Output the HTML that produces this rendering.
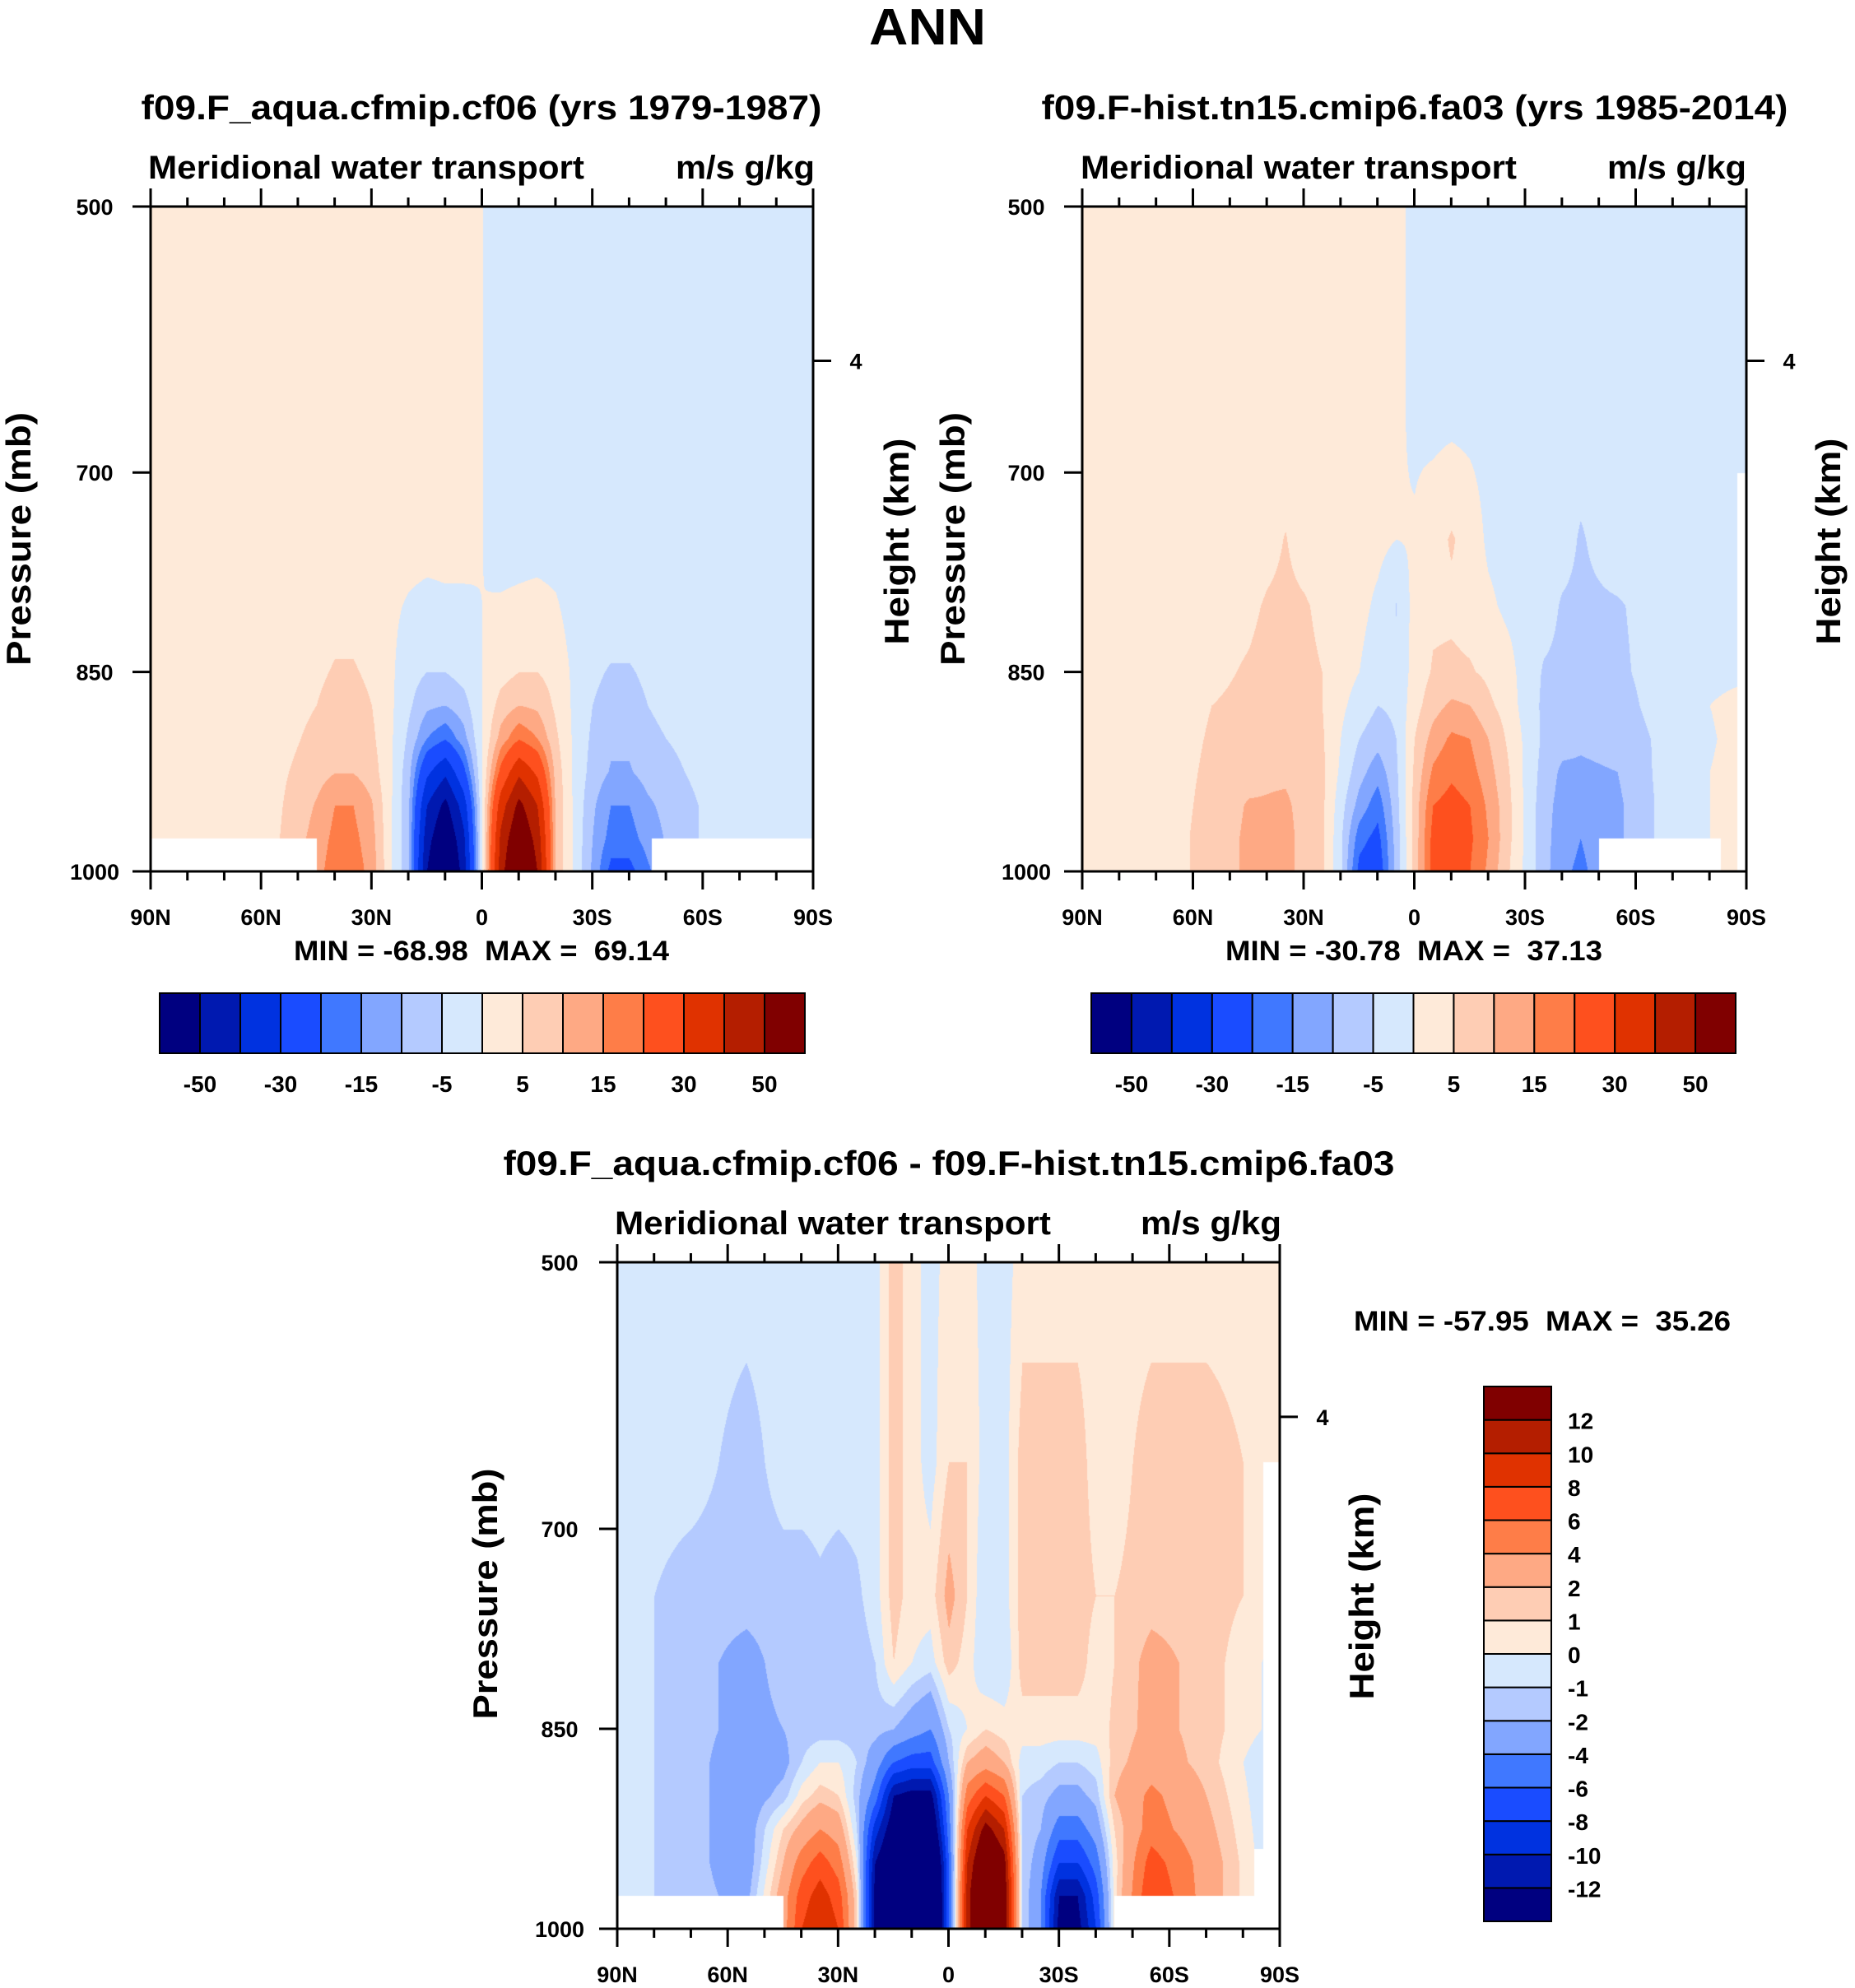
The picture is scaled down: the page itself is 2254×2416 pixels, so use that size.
<!DOCTYPE html>
<html><head><meta charset="utf-8">
<style>
html,body{margin:0;padding:0;background:#fff;}
#root{position:relative;width:2254px;height:2416px;overflow:hidden;background:#fff;font-family:"Liberation Sans",sans-serif;}
canvas{position:absolute;}
svg{position:absolute;left:0;top:0;}
text{font-family:"Liberation Sans",sans-serif;font-weight:bold;fill:#000;}
</style></head>
<body>
<div id="root">
<canvas id="cA" style="left:183px;top:251px" width="805" height="808"></canvas>
<canvas id="cB" style="left:1315px;top:251px" width="807" height="808"></canvas>
<canvas id="cC" style="left:750px;top:1534px" width="805" height="810"></canvas>
<svg id="ov" width="2254" height="2416">
<text x="1127" y="54" font-size="62" text-anchor="middle" textLength="142" lengthAdjust="spacingAndGlyphs">ANN</text>
<text x="585" y="145" font-size="42" text-anchor="middle" textLength="827" lengthAdjust="spacingAndGlyphs">f09.F_aqua.cfmip.cf06 (yrs 1979-1987)</text>
<text x="180" y="217" font-size="40" textLength="530" lengthAdjust="spacingAndGlyphs">Meridional water transport</text>
<text x="990" y="217" font-size="40" text-anchor="end" textLength="169" lengthAdjust="spacingAndGlyphs">m/s g/kg</text>
<text x="585" y="1167" font-size="34" text-anchor="middle" textLength="456" lengthAdjust="spacingAndGlyphs" xml:space="preserve">MIN = -68.98  MAX =  69.14</text>
<text x="37" y="655" font-size="42" text-anchor="middle" textLength="308" lengthAdjust="spacingAndGlyphs" transform="rotate(-90 37 655)">Pressure (mb)</text>
<text x="1104" y="658" font-size="42" text-anchor="middle" textLength="251" lengthAdjust="spacingAndGlyphs" transform="rotate(-90 1104 658)">Height (km)</text>

<text x="1719" y="145" font-size="42" text-anchor="middle" textLength="907" lengthAdjust="spacingAndGlyphs">f09.F-hist.tn15.cmip6.fa03 (yrs 1985-2014)</text>
<text x="1313" y="217" font-size="40" textLength="530" lengthAdjust="spacingAndGlyphs">Meridional water transport</text>
<text x="2122" y="217" font-size="40" text-anchor="end" textLength="169" lengthAdjust="spacingAndGlyphs">m/s g/kg</text>
<text x="1718" y="1167" font-size="34" text-anchor="middle" textLength="458" lengthAdjust="spacingAndGlyphs" xml:space="preserve">MIN = -30.78  MAX =  37.13</text>
<text x="1172" y="655" font-size="42" text-anchor="middle" textLength="308" lengthAdjust="spacingAndGlyphs" transform="rotate(-90 1172 655)">Pressure (mb)</text>
<text x="2236" y="658" font-size="42" text-anchor="middle" textLength="251" lengthAdjust="spacingAndGlyphs" transform="rotate(-90 2236 658)">Height (km)</text>

<text x="1153" y="1428" font-size="42" text-anchor="middle" textLength="1083" lengthAdjust="spacingAndGlyphs">f09.F_aqua.cfmip.cf06 - f09.F-hist.tn15.cmip6.fa03</text>
<text x="747" y="1500" font-size="40" textLength="530" lengthAdjust="spacingAndGlyphs">Meridional water transport</text>
<text x="1557" y="1500" font-size="40" text-anchor="end" textLength="171" lengthAdjust="spacingAndGlyphs">m/s g/kg</text>
<text x="1645" y="1617" font-size="34" textLength="458" lengthAdjust="spacingAndGlyphs" xml:space="preserve">MIN = -57.95  MAX =  35.26</text>
<text x="604" y="1937" font-size="42" text-anchor="middle" textLength="305" lengthAdjust="spacingAndGlyphs" transform="rotate(-90 604 1937)">Pressure (mb)</text>
<text x="1669" y="1940" font-size="42" text-anchor="middle" textLength="251" lengthAdjust="spacingAndGlyphs" transform="rotate(-90 1669 1940)">Height (km)</text>
</svg>
</div>
<script>
// ---- data ----
const lats = [90,70,55,45,40,35,30,25,20,15,10,5,0,-5,-10,-15,-20,-25,-30,-35,-40,-45,-55,-70,-90];
const pres = [500,650,750,800,850,875,900,925,950,975,1000];
const levelsAB = [-50,-40,-30,-20,-15,-10,-5,0,5,10,15,20,30,40,50];
const levelsC = [-12,-10,-8,-6,-4,-2,-1,0,1,2,4,6,8,10,12];
const cbLabelsAB = ["-50","","-30","","-15","","-5","","5","","15","","30","","50"];
const cbLabelsC = ["-12","-10","-8","-6","-4","-2","-1","0","1","2","4","6","8","10","12"];
const xTickLats = [90,60,30,0,-30,-60,-90];
const xTickLabels = ["90N","60N","30N","0","30S","60S","90S"];
const yTickPres = [500,700,850,1000];
const heightTickPres = [616];
// field columns (per latitude), values at pres rows
const fieldA = [
[2,2,2,2,2,2,2,2,2,2,2],
[2,2,2,2,2,2,2,2,2,2,2],
[2,2,2,2,2,2.5,3,4,4.5,5,5],
[2,2,2,2,4,5,6.5,8,10.5,12,13],
[2,2,2,3,5.5,7,8.5,9.8,15,16.5,18],
[2,2,2,3,5.5,7,8.5,9.8,15,16.5,18],
[2,2,2,2,4,5,6,7.5,10.5,12,13],
[2,2,2,1,1,1,1,1,1,1,1],
[2,2,2,-0.5,-3,-4,-6,-8,-9,-9,-9],
[2,2,2,-1.5,-5,-9,-15,-28,-40,-46,-50],
[2,2,2,-1,-5,-10,-19.5,-38,-53,-61,-69],
[2,2,1,-0.5,-3,-7,-12,-22,-35,-42,-45],
[0.1,0.1,0.1,0,0,0,0,0,0,0,0],
[-2,-2,-2,0.5,3,7,12,22,35,42,45],
[-2,-2,-2,1,5,10,19.5,38,53,61,69],
[-2,-2,-2,1.5,5,9,15,28,40,46,50],
[-2,-2,-2,0.5,3,4,6,8,9,9,9],
[-2,-2,-2,-2,-1,-1,-1,-1,-1,-1,-1],
[-2,-2,-2,-2,-4,-5,-6,-7,-9,-10,-11],
[-2,-2,-2,-2,-5.5,-7,-9,-10.5,-15,-17,-22],
[-2,-2,-2,-2,-5.5,-7,-9,-10.5,-15,-17,-22],
[-2,-2,-2,-2,-4,-5,-6,-8,-11,-13,-16],
[-2,-2,-2,-2,-2.5,-3,-4,-5,-6,-6,-6],
[-2,-2,-2,-2,-2,-2,-2,-2,-2,-2,-2],
[-2,-2,-2,-2,-2,-2,-2,-2,-2,-2,-2]
];
const fieldB = [
[2,2,2,2,2,2,2,2,2,2,2],
[2,2,2,2,2,2,2,2,2,2,2],
[2,2,2,3,4,5,5.5,6,6.5,7,7],
[2,2,2,4,5.5,6,7,8,10.5,11,11],
[2,2,3.5,5.5,6.5,7,8,9,10.5,11,11],
[2,2,5.2,6,7,7.5,8,9,11,12,12],
[2,2,3,5.5,6,6.5,7,7.5,8,8,8],
[2,2,2,4,5,5,5.5,6,6,6,6],
[2,2,2,2,2,1,0,-1,-3,-4,-4],
[2,2,2,1.5,0,-2,-5,-8,-12,-18,-22],
[2,2,1.5,-1,-3,-5,-8,-13,-18,-22,-25],
[1,1,0,-5.2,-4,-4,-5,-6,-7,-8,-8],
[-1,-1,0.5,2,2,3,5,6,7,7,7],
[-2,-2,3,4,5.5,8,12,16,20,22,22],
[-2,-2,5.5,4,6,11,16,19,22,26,28],
[-2,-2,3,3,5.5,10,15,17,20,21,20],
[-2,-2,-1,1,4,6,10,12,14,15,14],
[-2,-2,-2,-1,2,3,4.5,6,7,7,6],
[-2,-2,-2,-2,-2,-2,-1,-1,-1,-1,-1],
[-2,-2,-2,-3,-5.5,-6,-6,-7,-8,-8,-8],
[-2,-2,-3,-5.5,-6,-7,-8,-11,-12,-13,-14],
[-2,-2,-5.5,-6,-7,-8,-9,-11,-13,-15,-16],
[-2,-2,-2,-5.5,-6,-7,-8,-10,-11,-11,-11],
[-2,-2,-2,-2,-2,-2,-3,-2,-2,-2,-2],
[-2,-2,-2,-2,-1,2,2,2,2,2,2]
];
const fieldC = [
[-0.5,-0.5,-0.5,-0.5,-0.5,-0.5,-0.5,-0.5,-0.5,-0.5,-0.5],
[-0.5,-0.5,-1.5,-1.5,-1.5,-1.5,-1.5,-1.5,-1.5,-1.5,-1.5],
[-0.5,-1.5,-1.5,-2.5,-2.5,-3,-3,-3,-3,-2.5,-2.5],
[-0.5,-0.5,-1.5,-1.5,-2,-2.5,-1.5,1,2,3,3],
[-0.5,-0.5,-1.5,-1.5,-1.5,-1,0.5,2.5,5,7,8],
[-0.5,-0.5,-1.2,-1.5,-1.5,0,1.5,4,7,9,10],
[-0.5,-0.5,-1.5,-1.5,-1.5,0,1,3,5,7,8],
[-0.5,-0.5,-1.2,-1.5,-1.5,-1,-1.5,-1,0,1,1],
[-0.5,-0.5,-0.5,-1,-1.5,-3,-5,-9,-12,-13,-13],
[1.5,1.5,1.5,1,-2,-6,-12,-14,-16,-16,-16],
[0.5,0.5,0.5,0,-3,-7,-13,-16,-20,-22,-22],
[-0.5,-0.5,0.5,-0.5,-4,-7,-13,-16,-20,-22,-22],
[0.5,1,2.5,1.5,-1,-2,-4,-5,-6,-6,-6],
[0.5,1,1,0.5,0,2,5,8,10,11,11],
[-0.5,-0.5,-1,-1,1,3,8,13,16,18,18],
[-0.5,-0.5,-0.5,-1,0.5,2,6,10,13,14,14],
[0.5,1.5,1.5,1.5,0.5,-0.5,-1,-1,-1,-1,-1],
[0.5,1.5,1.5,1.5,0.5,-0.5,-1.5,-2,-3,-4,-4],
[0.5,1.5,1.5,1.5,0.5,-1,-2.5,-5,-8,-12,-13],
[0.5,1.5,1.5,1.5,0.5,-1,-2.5,-5,-8,-12,-13],
[0.5,0.5,1,0.5,0.5,-0.5,-1.5,-3,-5,-7,-8],
[0.5,0.5,1,1,1.2,1.5,2,1,0.5,0.5,0.5],
[0.5,1.5,1.5,2.5,2.5,3,4.5,5,7,8,8],
[0.5,1.5,1.5,1.5,1.5,1.5,2,2.5,3,3,3],
[0.5,0.5,0.5,-0.5,-0.5,-1.5,-1.5,-1.5,-1.5,-1.5,-1.5]
];
// masked (below-surface) regions: [latNorth, latSouth, pTop]
const maskA = [[90,45,975],[-46,-90,975]];
const maskB = [[-50,-83,975],[-87.5,-90,700]];
const maskC = [[90,45,975],[-45,-83,975],[-85.5,-90,650],[-83,-90,940]];
const palette = ["#000080","#0019b0","#0032e0","#1a4cff","#4078ff","#82a6ff","#b4caff","#d6e8fd","#feead9","#fecdb4","#fea984","#fe7d48","#fe501e","#e03200","#b41e00","#800000"];

// ---- axis functions ----
function latToX(lat, w){ return (90 - lat) / 180 * w; }
function presToY(p, h){ return (p - 500) / 500 * h; }

function sample(field, lat, p){
  let i = 0;
  while (i < lats.length - 2 && lat < lats[i+1]) i++;
  let j = 0;
  while (j < pres.length - 2 && p > pres[j+1]) j++;
  const tx = (lats[i] - lat) / (lats[i] - lats[i+1]);
  const ty = (p - pres[j]) / (pres[j+1] - pres[j]);
  const a = field[i][j], b = field[i+1][j], c = field[i][j+1], d = field[i+1][j+1];
  return (a*(1-tx) + b*tx)*(1-ty) + (c*(1-tx) + d*tx)*ty;
}
function hex(c){ return [parseInt(c.substr(1,2),16),parseInt(c.substr(3,2),16),parseInt(c.substr(5,2),16)]; }
const rgb = palette.map(hex);

function drawField(id, field, levels, masks){
  const cv = document.getElementById(id);
  const w = cv.width, h = cv.height;
  const ctx = cv.getContext('2d');
  const img = ctx.createImageData(w, h);
  for (let y = 0; y < h; y++){
    const p = 500 + y / h * 500;
    for (let x = 0; x < w; x++){
      const lat = 90 - x / w * 180;
      let col = [255,255,255];
      let masked = false;
      for (const m of masks){ if (lat <= m[0] && lat >= m[1] && p >= m[2]) masked = true; }
      if (!masked){
        const v = sample(field, lat, p);
        let k = 0;
        while (k < levels.length && v >= levels[k]) k++;
        col = rgb[k];
      }
      const o = (y*w + x)*4;
      img.data[o] = col[0]; img.data[o+1] = col[1]; img.data[o+2] = col[2]; img.data[o+3] = 255;
    }
  }
  ctx.putImageData(img, 0, 0);
}
drawField('cA', fieldA, levelsAB, maskA);
drawField('cB', fieldB, levelsAB, maskB);
drawField('cC', fieldC, levelsC, maskC);

const NS = 'http://www.w3.org/2000/svg';
const ov = document.getElementById('ov');
function mk(tag, attrs, name){
  const el = document.createElementNS(NS, tag);
  for (const k in attrs) el.setAttribute(k, attrs[k]);
  
  
  ov.appendChild(el);
  return el;
}
function line(x1,y1,x2,y2,wd,name){ return mk('line',{x1:x1,y1:y1,x2:x2,y2:y2,stroke:'#000','stroke-width':wd},name); }
function label(x,y,s,size,anchor,name){ const t = mk('text',{x:x,y:y,'font-size':size,'text-anchor':anchor},name); t.textContent = s; return t; }

function axes(pfx, x0, y0, w, h, ylabX){
  mk('rect',{x:x0,y:y0,width:w,height:h,fill:'none',stroke:'#000','stroke-width':3}, pfx+'-plot-frame');
  for (let lat = 90; lat >= -90; lat -= 10){
    const x = x0 + latToX(lat, w);
    const major = lat % 30 === 0;
    const L = major ? 22 : 11;
    line(x, y0, x, y0 - L, 3, pfx+'-top-tick');
    line(x, y0 + h, x, y0 + h + L, 3, pfx+'-bottom-tick');
  }
  xTickLats.forEach((lat, i) => {
    label(x0 + latToX(lat, w), y0 + h + 65, xTickLabels[i], 27, 'middle', pfx+'-x-tick-label');
  });
  yTickPres.forEach(p => {
    const y = y0 + presToY(p, h);
    line(x0 - 22, y, x0, y, 3, pfx+'-y-tick');
    label(ylabX, y + 10, String(p), 27, 'middle', pfx+'-y-tick-label');
  });
  heightTickPres.forEach(p => {
    const y = y0 + presToY(p, h);
    line(x0 + w, y, x0 + w + 22, y, 3, pfx+'-height-tick');
    label(x0 + w + 52, y + 10, '4', 27, 'middle', pfx+'-height-tick-label');
  });
}
axes('panel1', 183, 251, 805, 808, 115);
axes('panel2', 1315, 251, 807, 808, 1247);
axes('diff', 750, 1534, 805, 810, 680);

function hbar(pfx, x0, y0, w, h){
  const bw = w / palette.length;
  palette.forEach((c, i) => {
    mk('rect',{x:x0 + i*bw, y:y0, width:bw, height:h, fill:c, stroke:'#000','stroke-width':2}, pfx+'-colorbar-box');
  });
  cbLabelsAB.forEach((s, i) => {
    if (s) label(x0 + (i+1)*bw, y0 + h + 47, s, 28, 'middle', pfx+'-colorbar-label');
  });
}
hbar('panel1', 194, 1207, 784, 73);
hbar('panel2', 1326, 1207, 783, 73);

function vbar(x0, y0, w, h){
  const bh = h / palette.length;
  palette.forEach((c, i) => {
    mk('rect',{x:x0, y:y0 + (palette.length-1-i)*bh, width:w, height:bh, fill:c, stroke:'#000','stroke-width':2}, 'diff-colorbar-box');
  });
  cbLabelsC.forEach((s, i) => {
    label(x0 + w + 20, y0 + (levelsC.length - i)*bh + 11, s, 28, 'start', 'diff-colorbar-label');
  });
}
vbar(1803, 1685, 82, 650);
</script>
</body></html>
